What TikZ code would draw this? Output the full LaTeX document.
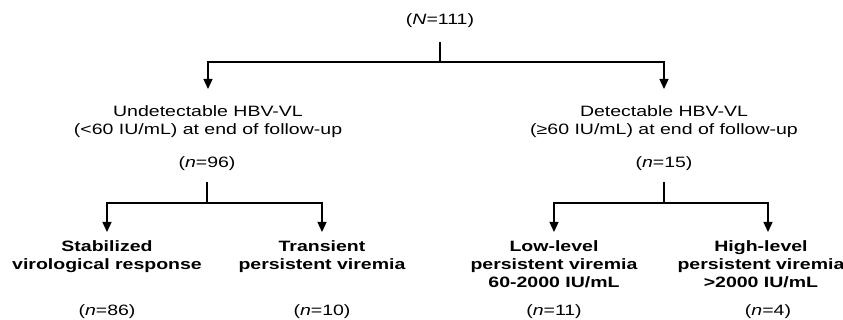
\documentclass[tikz,border=0pt]{standalone}
\usepackage{fontspec}
\setmainfont{Liberation Sans}[FakeStretch=1.3]
\usetikzlibrary{arrows.meta}
\begin{document}
\begin{tikzpicture}[x=1pt,y=-1pt,
  txt/.style={font=\fontsize{15}{18}\selectfont, align=center, inner xsep=0pt},
  btxt/.style={font=\fontsize{15}{18}\selectfont\bfseries, align=center, inner xsep=0pt},
  conn/.style={line width=1.3pt, draw=black},
  arr/.style={conn, -{Triangle[width=9pt,length=10pt]}}]
\useasboundingbox (0,0) rectangle (843,320);
% texts
\node[txt, inner ysep=14pt] (root) at (440,21) {(\textit{N}=111)};
\node[txt, anchor=north, inner ysep=16pt] (und) at (208,89) {Undetectable HBV-VL\\(<60 IU/mL) at end of follow-up};
\node[txt, anchor=north, inner ysep=16pt] (det) at (664,89) {Detectable HBV-VL\\(≥60 IU/mL) at end of follow-up};
\node[txt, inner ysep=11pt] (n96) at (207,164) {(\textit{n}=96)};
\node[txt, inner ysep=11pt] (n15) at (664,164) {(\textit{n}=15)};
\node[btxt, anchor=north, inner ysep=8pt] (stab) at (107,232) {Stabilized\\virological response};
\node[btxt, anchor=north, inner ysep=8pt] (trans) at (322,232) {Transient\\persistent viremia};
\node[btxt, anchor=north, inner ysep=8pt] (low) at (554,232) {Low-level\\persistent viremia\\60-2000 IU/mL};
\node[btxt, anchor=north, inner ysep=8pt] (high) at (761,232) {High-level\\persistent viremia\\>2000 IU/mL};
\node[txt] (n86) at (107,312) {(\textit{n}=86)};
\node[txt] (n10) at (322,312) {(\textit{n}=10)};
\node[txt] (n11) at (554,312) {(\textit{n}=11)};
\node[txt] (n4) at (768,312) {(\textit{n}=4)};
% junctions and arrow tips
\coordinate (j0) at (440,62);
\coordinate (j1) at (207,203);
\coordinate (j2) at (664,203);
\coordinate (tipH) at (768,232);
% connectors
\draw[conn] (root.south) -- (j0);
\draw[arr] (j0) -| (und.north);
\draw[arr] (j0) -| (det.north);
\draw[conn] (n96.south) -- (j1);
\draw[arr] (j1) -| (stab.north);
\draw[arr] (j1) -| (trans.north);
\draw[conn] (n15.south) -- (j2);
\draw[arr] (j2) -| (low.north);
\draw[arr] (j2) -| (tipH);
\end{tikzpicture}
\end{document}
